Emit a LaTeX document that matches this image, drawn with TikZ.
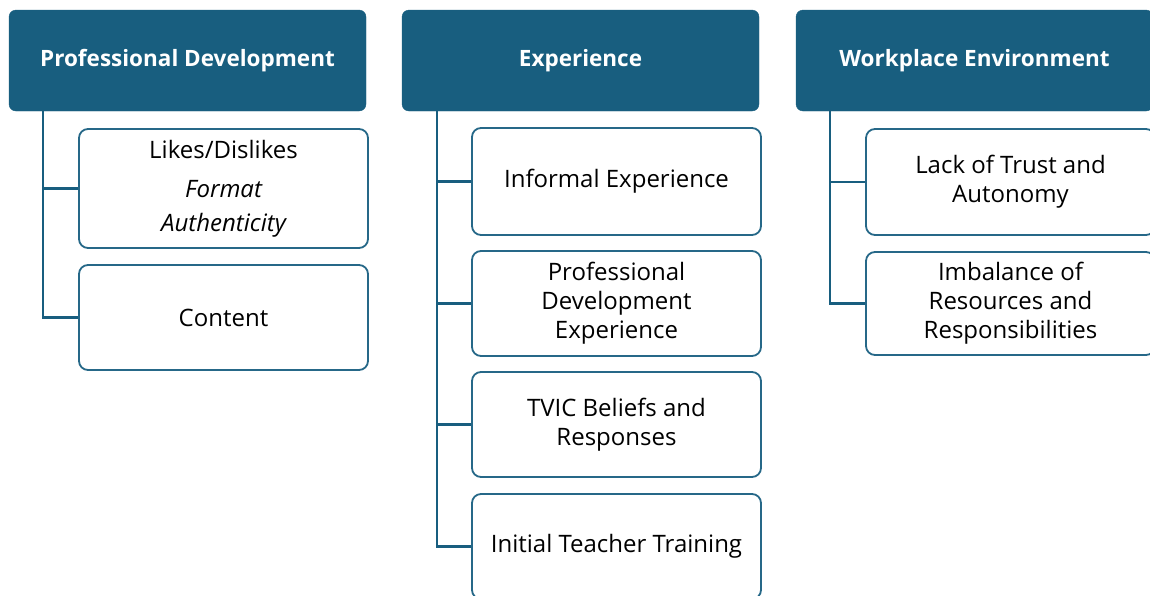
\documentclass[tikz,border=0pt]{standalone}
\usepackage{fontspec}
\setmainfont{Open Sans}
\definecolor{hdr}{RGB}{24,94,127}
\definecolor{bord}{RGB}{38,104,136}
\begin{document}
\begin{tikzpicture}[x=1pt,y=-1pt,
  header/.style={fill=hdr, draw=hdr, rounded corners=7pt, minimum width=357pt, minimum height=101pt, text=white, font=\fontsize{22.5}{27}\selectfont\bfseries, align=center, inner sep=0pt},
  child/.style={draw=bord, line width=1.8pt, fill=white, rounded corners=9pt, minimum width=289pt, align=center, inner sep=0pt, font=\fontsize{24}{29}\selectfont},
  conn/.style={draw=hdr, line width=2.2pt}]
\useasboundingbox (0,0) rectangle (1150,595);
\node[header] (h1) at (187.5,60.5) {Professional Development};
\node[header] (h2) at (580.5,60.5) {Experience};
\node[header] (h3) at (974.5,60.5) {Workplace Environment};

\node[child, minimum height=119pt] (a1) at (223.5,188.5) {Likes/Dislikes\\[10pt]{\itshape Format}\\[5pt]{\itshape Authenticity}};
\node[child, minimum height=105pt] (a2) at (223.5,317.5) {Content};

\node[child, minimum height=107pt] (b1) at (616.5,181.5) {Informal Experience};
\node[child, minimum height=105pt] (b2) at (616.5,303.5) {Professional\\Development\\Experience};
\node[child, minimum height=105pt] (b3) at (616.5,424.5) {TVIC Beliefs and\\Responses};
\node[child, minimum height=105pt] (b4) at (616.5,546.5) {Initial Teacher Training};

\node[child, minimum height=106pt] (c1) at (1010.5,182) {Lack of Trust and\\Autonomy};
\node[child, minimum height=103pt] (c2) at (1010.5,303.5) {Imbalance of\\Resources and\\Responsibilities};

\draw[conn] ([xshift=34pt]h1.south west) |- (a1.west);
\draw[conn] ([xshift=34pt]h1.south west) |- (a2.west);
\draw[conn] ([xshift=35pt]h2.south west) |- (b1.west);
\draw[conn] ([xshift=35pt]h2.south west) |- (b2.west);
\draw[conn] ([xshift=35pt]h2.south west) |- (b3.west);
\draw[conn] ([xshift=35pt]h2.south west) |- (b4.west);
\draw[conn] ([xshift=34pt]h3.south west) |- (c1.west);
\draw[conn] ([xshift=34pt]h3.south west) |- (c2.west);
\end{tikzpicture}
\end{document}
